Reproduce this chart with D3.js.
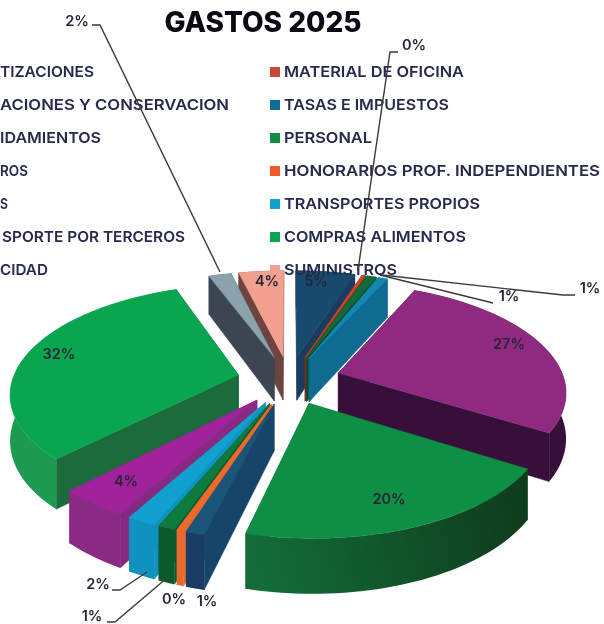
<!DOCTYPE html>
<html><head><meta charset="utf-8">
<script src="https://cdnjs.cloudflare.com/ajax/libs/d3/7.8.5/d3.min.js"></script>
<style>html,body{margin:0;padding:0;background:#fff;overflow:hidden}svg{display:block;filter:blur(0.4px)}</style>
</head><body><svg id="c" width="604" height="624"></svg>
<script>
// --- data (clockwise from 12 o'clock)
const categories=["COTIZACIONES","MATERIAL DE OFICINA","REPARACIONES Y CONSERVACION","TASAS E IMPUESTOS","ARRENDAMIENTOS","PERSONAL","SEGUROS","HONORARIOS PROF. INDEPENDIENTES","S","TRANSPORTES PROPIOS","TRANSPORTE POR TERCEROS","COMPRAS ALIMENTOS","ELECTRICIDAD","SUMINISTROS"];
const values=[5,0.3,0.8,0.8,27,20,1.1,0.4,1,1.7,4.2,32,1.9,3.8];
const topColors=["#174a6c","#c8472f","#146b3a","#1287b3","#8f2a80","#0e8f45","#1b5578","#ee6a2c","#0f7a3e","#12a0cf","#a0229a","#0aa64f","#8aa3ad","#f2a090"];
const sideColors=["#1b3b5c","#7a2e20","#0b4f2a","#106b92","#36103a","#125f32","#174569","#e8692e","#0b5a2e","#0f92bf","#862a82","#1c6b3c","#3c4652","#6e4440"];
const outerStart=["#1b3b5c","#7a2e20","#0b4f2a","#106b92","#36103a","#0f3a1c","#1a3c62","#e8692e","#0b5a2e","#0f92bf","#8a2a85","#1b9a50","#3c4652","#6e4440"];
const outerEnd=["#1b3b5c","#7a2e20","#0b4f2a","#106b92","#36103a","#136c3a","#1a3c62","#e8692e","#0b5a2e","#0f92bf","#8a2a85","#1b9a50","#3c4652","#6e4440"];
const legendRight=["MATERIAL DE OFICINA","TASAS E IMPUESTOS","PERSONAL","HONORARIOS PROF. INDEPENDIENTES","TRANSPORTES PROPIOS","COMPRAS ALIMENTOS","SUMINISTROS"];
const legendRightWidth=[180,165,88,316,196,182,113];
const legendLeftVisible=["TIZACIONES","ACIONES Y CONSERVACION","IDAMIENTOS","ROS","S","SPORTE POR TERCEROS","CIDAD"];
const legendLeftEnd=[94,229,101,28,8,185,48];
const legendSwatch=["#c8472f","#0f6e96","#0e8f45","#ee5a2c","#12a0cf","#0aa64f","#f2a090"];
const title="GASTOS 2025";

const svg=d3.select("#c");
const defs=svg.append("defs");
const fmt=d3.format(".0%");
const total=d3.sum(values);
const pct=v=>fmt(v/total);

// projection
const cx=289,cy=380,B=226,A=106,persp=0.155,explode=0.23,depth=45;
const sx=d3.scaleLinear().domain([-1,1]).range([cx-B,cx+B]);
const sy=d3.scaleLinear().domain([-1,1]).range([cy+A,cy-A]);
function proj(u,v,low){const w=1/(1+persp*v);return [sx(u*w),sy(v*w)+(low?depth*w:0)];}

const arcs=d3.pie().value(d=>d).sort(null)(values);
const slices=arcs.map((a,i)=>{
  const mid=(a.startAngle+a.endAngle)/2;
  return {i,a,mid,ex:explode*Math.sin(mid),ey:explode*Math.cos(mid)};
});
const pt=(s,r,t,low)=>proj(s.ex+r*Math.sin(t),s.ey+r*Math.cos(t),low);
const line=d3.line();
function poly(g,pts,fill,stroke){g.append("path").attr("d",line(pts)+"Z").attr("fill",fill).attr("stroke",stroke||fill).attr("stroke-width",0.5);}

const pieG=svg.append("g");
slices.slice().sort((p,q)=>(q.ey)-(p.ey)).forEach(s=>{
  const g=pieG.append("g");
  const n=Math.max(2,Math.ceil((s.a.endAngle-s.a.startAngle)/0.03));
  const ts=d3.range(n+1).map(k=>s.a.startAngle+(s.a.endAngle-s.a.startAngle)*k/n);
  const topArc=ts.map(t=>pt(s,1,t,false)), lowArc=ts.map(t=>pt(s,1,t,true));
  const tip=pt(s,0,0,false), tipL=pt(s,0,0,true);
  const side=sideColors[s.i];
  // radial faces
  poly(g,[tip,tipL,lowArc[0],topArc[0]],side);
  poly(g,[tip,tipL,lowArc[n],topArc[n]],side);
  // outer wall, shaded along the arc with one gradient
  const gid="wall"+s.i;
  const lg=defs.append("linearGradient").attr("id",gid).attr("gradientUnits","userSpaceOnUse")
    .attr("x1",topArc[0][0]).attr("y1",topArc[0][1]).attr("x2",topArc[n][0]).attr("y2",topArc[n][1]);
  lg.append("stop").attr("offset",0).attr("stop-color",outerStart[s.i]);
  lg.append("stop").attr("offset",1).attr("stop-color",outerEnd[s.i]);
  poly(g,topArc.concat(lowArc.slice().reverse()),`url(#${gid})`,"none");
  // top
  poly(g,[tip].concat(topArc),topColors[s.i]);
});

// title
const textFill="#262a4c";
svg.append("text").attr("x",263).attr("y",32).attr("text-anchor","middle")
  .attr("font-family","Inter").attr("font-weight",800).attr("font-size",28).attr("fill","#0a0a14").text(title);

// legend
const rowY=d3.scalePoint().domain(d3.range(7)).range([71,269]);
const leg=svg.append("g").attr("font-family","Inter").attr("font-weight",600).attr("font-size",15).attr("fill",textFill);
legendRight.forEach((name,r)=>{
  leg.append("rect").attr("x",270).attr("y",rowY(r)-4).attr("width",10).attr("height",10).attr("fill",legendSwatch[r]);
  leg.append("text").attr("x",284).attr("y",rowY(r)+6).attr("textLength",legendRightWidth[r]).attr("lengthAdjust","spacingAndGlyphs").text(name);
});
legendLeftVisible.forEach((name,r)=>{
  const w=[94,229,101,28,8,185,48][r]-([0,0,0,0,0,2,0][r]);
  leg.append("text").attr("x",legendLeftEnd[r]-w).attr("y",rowY(r)+6).attr("textLength",w).attr("lengthAdjust","spacingAndGlyphs").text(name);
});

// leader lines
const leaders=[
 [[398,52],[390,52],[358,270]],
 [[493,303],[380,275]],
 [[575,295],[563,295],[382,275]],
 [[92,25],[100,25],[220,272]],
 [[112,590],[120,590],[147,572]],
 [[107,622],[115,622],[168,577]]
];
svg.append("g").selectAll("path").data(leaders).join("path").attr("d",d=>line(d)).attr("fill","none").attr("stroke","#3a3a3a").attr("stroke-width",1.4);

// data labels (same order as values)
const labelPos=[[316,281],[414,45],[509,296],[590,288],[509,344],[389,499],[207,601],[174,599],[92,616],[98,584],[126,481],[59,354],[77,21],[267,281]];
svg.append("g").attr("font-family","Inter").attr("font-weight",600).attr("font-size",14.5).attr("text-anchor","middle").attr("fill","#24243a")
  .selectAll("text").data(values).join("text")
  .attr("x",(d,i)=>labelPos[i][0]).attr("y",(d,i)=>labelPos[i][1]+5).text(pct);
</script></body></html>
